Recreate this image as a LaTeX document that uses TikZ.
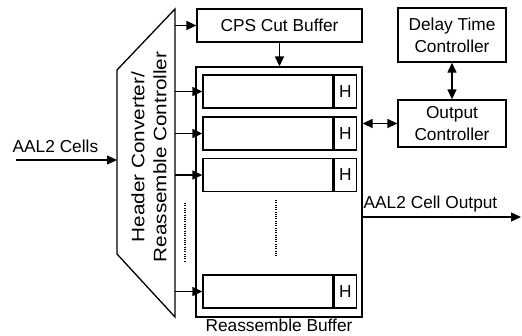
\documentclass[tikz,border=0pt]{standalone}
\usepackage{fontspec}
\setmainfont{Liberation Sans}
\usetikzlibrary{arrows.meta}

\begin{document}
\begin{tikzpicture}[x=1pt, y=-1pt, line width=1.3pt,
        font=\fontsize{17.3}{22}\selectfont,
        box/.style={draw, inner sep=0pt, align=center},
        lbl/.style={inner sep=0pt},
        arr/.style={-{Triangle[length=10pt,width=9pt]}},
        darr/.style={{Triangle[length=10pt,width=9pt]}-{Triangle[length=10pt,width=9pt]}},
        dots/.style={line width=1.5pt, dash pattern=on 1pt off 1.3pt}]
        \useasboundingbox (0,0) rectangle (522,335);

        % Header Converter / Reassemble Controller
        \coordinate (hcl) at (117,70);
        \coordinate (hcr) at (175,9);
        \draw (hcl) -- (hcr) -- (175,317) -- (117,254) -- cycle;
        \node[rotate=90, xscale=1.15, align=center, font=\fontsize{18}{22}\selectfont] (hc) at (149,157) {Header Converter/\\Reassemble Controller};
        \draw[dots] (185,203) -- (185,261);

        % CPS Cut Buffer
        \node[box, minimum width=165, minimum height=33] (cps) at (279.5,25.5) {CPS Cut Buffer};

        % Reassemble Buffer
        \node[box, minimum width=166, minimum height=250] (rb) at (279,192) {};
        \node[lbl, anchor=base] (rblabel) at (279,331) {Reassemble Buffer};

        % Zeilen des Puffers
        \node[box, minimum width=130, minimum height=33] (buf1) at (268,91.5) {};
        \node[box, minimum width=22, minimum height=33, anchor=west] (h1) at (buf1.east) {H};
        \node[box, minimum width=130, minimum height=33] (buf2) at (268,133.5) {};
        \node[box, minimum width=22, minimum height=33, anchor=west] (h2) at (buf2.east) {H};
        \node[box, minimum width=130, minimum height=33] (buf3) at (268,175) {};
        \node[box, minimum width=22, minimum height=33, anchor=west] (h3) at (buf3.east) {H};
        \node[box, minimum width=130, minimum height=33] (buf4) at (268,291.5) {};
        \node[box, minimum width=22, minimum height=33, anchor=west] (h4) at (buf4.east) {H};
        \draw[dots] (276,200) -- (276,257);

        % Delay Time / Output Controller
        \node[box, minimum width=108, minimum height=54] (delay) at (452,35) {Delay Time\\Controller};
        \node[box, minimum width=108, minimum height=47] (outctl) at (452,123.5) {Output\\Controller};

        % Eingang und Ausgang
        \coordinate (in) at (16,160);
        \node[lbl, anchor=base west] (inlabel) at (12,152) {AAL2 Cells};
        \coordinate (out) at (521,217);
        \node[lbl, anchor=base west] (outlabel) at (363,208) {AAL2 Cell Output};

        % Pfeile
        \draw[arr] (in) -- (in -| hcl);
        \draw[arr] (cps.west -| hcr) -- (cps.west);
        \draw[arr] (buf1.west -| hcr) -- (buf1.west);
        \draw[arr] (buf2.west -| hcr) -- (buf2.west);
        \draw[arr] (buf3.west -| hcr) -- (buf3.west);
        \draw[arr] (buf4.west -| hcr) -- (buf4.west);
        \draw[arr] (cps.south) -- (cps.south |- rb.north);
        \draw[darr] (delay.south) -- (outctl.north);
        \draw[darr] (outctl.west -| rb.east) -- (outctl.west);
        \draw[arr] (out -| rb.east) -- (out);
\end{tikzpicture}
\end{document}
